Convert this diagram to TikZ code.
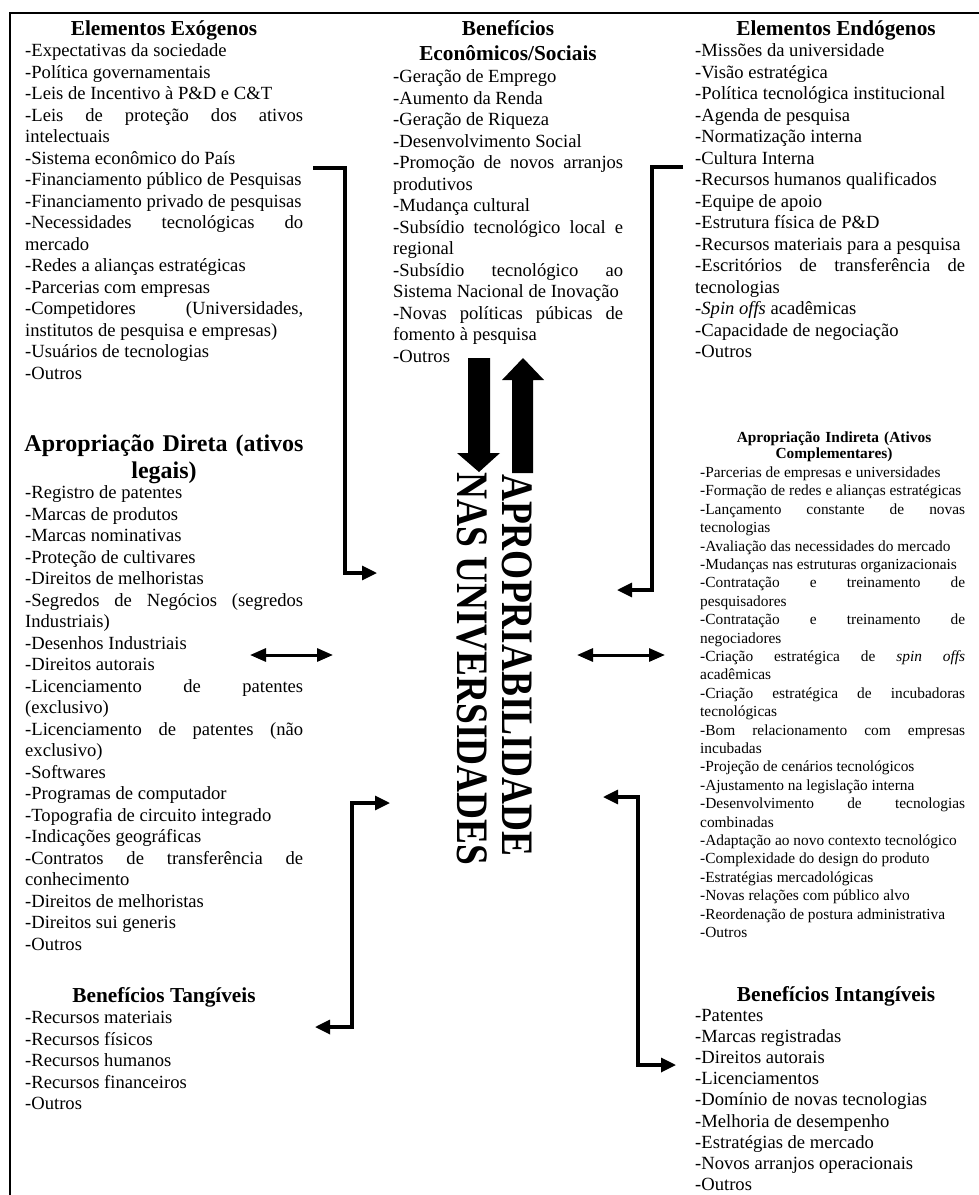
\documentclass[tikz,border=0pt]{standalone}
\usepackage{fontspec}
\setmainfont{Liberation Serif}
\usepackage{graphicx}
\usetikzlibrary{arrows.meta}
\hyphenpenalty=10000
\exhyphenpenalty=10000
\tolerance=10000
\hbadness=10000
\newcommand\fbody{\fontsize{18.6}{21.5}\selectfont}
\newcommand\fbodytight{\fontsize{18.6}{21.1}\selectfont}
\newcommand\fhead{\bfseries\fontsize{21.3}{25}\selectfont}
\newcommand\fbig{\bfseries\fontsize{24}{27}\selectfont}
\newcommand\fsmall{\fontsize{15.4}{18.4}\selectfont}
\newcommand\fsmallhead{\bfseries\fontsize{15.4}{16.5}\selectfont}
\newcommand\fvert{\bfseries\fontsize{45}{45}\selectfont}
\begin{document}
\begin{tikzpicture}[x=1pt,y=-1pt,
  itembox/.style={anchor=base west, inner sep=0pt, align=justify, font=\fbody},
  smallitembox/.style={itembox, font=\fsmall},
  headbox/.style={anchor=base, inner sep=0pt, align=center, font=\fhead},
  vtext/.style={anchor=base west, inner sep=0pt, rotate=-90, font=\fvert},
  frameline/.style={line width=2.8pt, line join=miter},
  bracketline/.style={line width=3.2pt, line join=miter, -{Triangle[length=15pt,width=14pt]}},
  bracketboth/.style={line width=3.2pt, line join=miter, {Triangle[length=15pt,width=14pt]}-{Triangle[length=15pt,width=14pt]}},
  dblarrow/.style={line width=3pt, {Triangle[length=16pt,width=13pt]}-{Triangle[length=16pt,width=13pt]}},
  blockarrow/.style={fill=black}
]
\fill[white] (0,0) rectangle (978,1195);
\useasboundingbox (0,0) rectangle (978,1195);

% frame
\draw[frameline] (982,13) -- (10,13) -- (10,1199);

% headers
\node[headbox] (hexo) at (164,35.5) {Elementos Exógenos};
\node[headbox, text width=230] (hben) at (508,35.5) {Benefícios\\Econômicos/Sociais};
\node[headbox] (hendo) at (836,35.5) {Elementos Endógenos};
\node[headbox, font=\fbig, text width=280] (hdir) at (164,451.4) {Apropriação Direta (ativos\\legais)};
\node[headbox, font=\fsmallhead, text width=265] (hind) at (834,442.4) {Apropriação Indireta (Ativos\\Complementares)};
\node[headbox] (htang) at (164,1002.5) {Benefícios Tangíveis};
\node[headbox] (hintang) at (836,1001) {Benefícios Intangíveis};

% lists
\node[itembox, text width=278] (exo) at (25,56.5) {%
-Expectativas da sociedade\par
-Política governamentais\par
-Leis de Incentivo à P\&D e C\&T\par
-Leis de proteção dos ativos \linebreak intelectuais\par
-Sistema econômico do País\par
-Financiamento público de Pesquisas\par
-Financiamento privado de pesquisas\par
-Necessidades tecnológicas do \linebreak mercado\par
-Redes a alianças estratégicas\par
-Parcerias com empresas\par
-Competidores (Universidades, \linebreak institutos de pesquisa e empresas)\par
-Usuários de tecnologias\par
-Outros};

\node[itembox, text width=230] (ben) at (393,82.5) {%
-Geração de Emprego\par
-Aumento da Renda\par
-Geração de Riqueza\par
-Desenvolvimento Social\par
-Promoção de novos arranjos \linebreak produtivos\par
-Mudança cultural\par
-Subsídio tecnológico local e \linebreak regional\par
-Subsídio tecnológico ao \linebreak Sistema Nacional de Inovação\par
-Novas políticas púbicas de \linebreak fomento à pesquisa\par
-Outros};

\node[itembox, text width=270] (endo) at (695,56.5) {%
-Missões da universidade\par
-Visão estratégica\par
-Política tecnológica institucional\par
-Agenda de pesquisa\par
-Normatização interna\par
-Cultura Interna\par
-Recursos humanos qualificados\par
-Equipe de apoio\par
-Estrutura física de P\&D\par
-Recursos materiais para a pesquisa\par
-Escritórios de transferência de \linebreak tecnologias\par
-\textit{Spin offs} acadêmicas\par
-Capacidade de negociação\par
-Outros};

\node[itembox, text width=278] (dir) at (25,498.5) {%
-Registro de patentes\par
-Marcas de produtos\par
-Marcas nominativas\par
-Proteção de cultivares\par
-Direitos de melhoristas\par
-Segredos de Negócios (segredos \linebreak Industriais)\par
-Desenhos Industriais\par
-Direitos autorais\par
-Licenciamento de patentes \linebreak (exclusivo)\par
-Licenciamento de patentes (não \linebreak exclusivo)\par
-Softwares\par
-Programas de computador\par
-Topografia de circuito integrado\par
-Indicações geográficas\par
-Contratos de transferência de \linebreak conhecimento\par
-Direitos de melhoristas\par
-Direitos sui generis\par
-Outros};

\node[smallitembox, text width=265] (ind) at (700,477.4) {%
-Parcerias de empresas e universidades\par
-Formação de redes e alianças estratégicas\par
-Lançamento constante de novas \linebreak tecnologias\par
-Avaliação das necessidades do mercado\par
-Mudanças nas estruturas organizacionais\par
-Contratação e treinamento de \linebreak pesquisadores\par
-Contratação e treinamento de \linebreak negociadores\par
-Criação estratégica de \textit{spin offs} \linebreak acadêmicas\par
-Criação estratégica de incubadoras \linebreak tecnológicas\par
-Bom relacionamento com empresas \linebreak incubadas\par
-Projeção de cenários tecnológicos\par
-Ajustamento na legislação interna\par
-Desenvolvimento de tecnologias \linebreak combinadas\par
-Adaptação ao novo contexto tecnológico\par
-Complexidade do design do produto\par
-Estratégias mercadológicas\par
-Novas relações com público alvo\par
-Reordenação de postura administrativa\par
-Outros};

\node[itembox, text width=278] (tang) at (25,1023.5) {%
-Recursos materiais\par
-Recursos físicos\par
-Recursos humanos\par
-Recursos financeiros\par
-Outros};

\node[itembox, font=\fbodytight, text width=270] (intang) at (695,1021.5) {%
-Patentes\par
-Marcas registradas\par
-Direitos autorais\par
-Licenciamentos\par
-Domínio de novas tecnologias\par
-Melhoria de desempenho\par
-Estratégias de mercado\par
-Novos arranjos operacionais\par
-Outros};

% central vertical title
\node[vtext] (apro) at (502,474) {\scalebox{0.83}[1]{APROPRIABILIDADE}};
\node[vtext] (nas) at (457,472) {\scalebox{0.83}[1]{NAS UNIVERSIDADES}};

% block arrows
\fill[blockarrow] (468,358) -- (490,358) -- (490,453) -- (500,453) -- (479,472) -- (457,453) -- (468,453) -- cycle;
\fill[blockarrow] (512,473) -- (533,473) -- (533,380) -- (544,380) -- (523,358) -- (502,380) -- (512,380) -- cycle;

% connector coordinates
\coordinate (exoS) at (313,168);
\coordinate (exoK) at (345,573);
\coordinate (exoT) at (377,573);
\coordinate (endS) at (683,167);
\coordinate (endK) at (652,590);
\coordinate (endT) at (617,590);
\coordinate (dL1) at (250,655);
\coordinate (dL2) at (333,655);
\coordinate (dR1) at (577,655);
\coordinate (dR2) at (665,655);
\coordinate (tgT1) at (390,803);
\coordinate (tgK) at (352,1027);
\coordinate (tgT2) at (315,1027);
\coordinate (inT1) at (603,797);
\coordinate (inK) at (638,1065);
\coordinate (inT2) at (676,1065);

% connectors
\draw[bracketline] (exoS) -| (exoK) -- (exoT);
\draw[bracketline] (endS) -| (endK) -- (endT);
\draw[dblarrow] (dL1) -- (dL2);
\draw[dblarrow] (dR1) -- (dR2);
\draw[bracketboth] (tgT1) -| (tgK) -- (tgT2);
\draw[bracketboth] (inT1) -| (inK) -- (inT2);
\end{tikzpicture}
\end{document}
